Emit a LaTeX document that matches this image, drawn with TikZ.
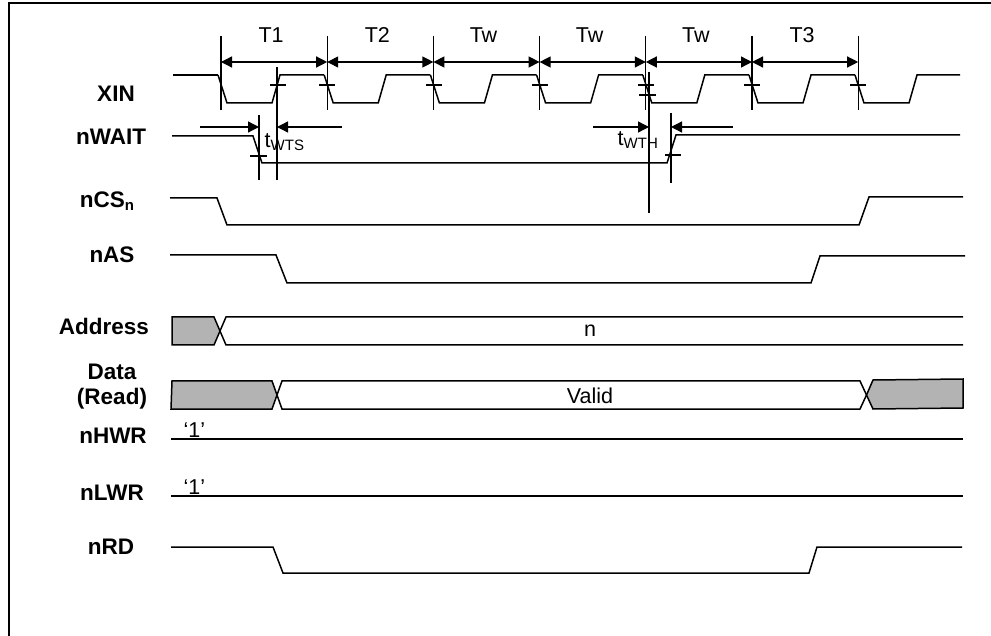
\documentclass[tikz,border=0pt]{standalone}
\usepackage{fontspec}
\setmainfont{Liberation Sans}
\usetikzlibrary{arrows.meta,positioning,calc}
\definecolor{busGray}{HTML}{B3B3B3}

\begin{document}
\begin{tikzpicture}[x=1pt,y=-1pt,line width=1.4pt,line join=miter,
    sig/.style={line width=1.5pt},
    guide/.style={line width=1.3pt},
    hit/.style={line width=1.3pt},
    signame/.style={font=\fontsize{22.5}{26}\selectfont\bfseries,anchor=base,inner sep=0pt},
    txt/.style={font=\fontsize{21.5}{25}\selectfont,anchor=base,inner sep=0pt},
    dim/.style={line width=1.3pt,{Triangle[length=11pt,width=11pt]}-{Triangle[length=11pt,width=11pt]}},
    onedim/.style={line width=1.3pt,-{Triangle[length=11pt,width=11pt]}},
    bus/.style={line width=1.5pt,line join=miter}]
  \useasboundingbox (0,0) rectangle (991,636);
  % frame
  \draw[line width=2pt] (991,3.5) -- (8.5,3.5) -- (8.5,636);

  % signal names
  \node[signame] (xin)   at (116,102) {XIN};
  \node[signame] (nwait) at (111,145) {nWAIT};
  \node[signame] (ncs)   at (107,208) {nCS\raisebox{-3pt}{\fontsize{15}{15}\selectfont n}};
  \node[signame] (nas)   at (112,263) {nAS};
  \node[signame] (addr)  at (104,335) {Address};
  \node[signame] (data)  at (112,380) {Data};
  \node[signame] (read)  at (112,404) {(Read)};
  \node[signame] (nhwr)  at (113,443) {nHWR};
  \node[signame] (nlwr)  at (112,500) {nLWR};
  \node[signame] (nrd)   at (111,554) {nRD};

  % clock period markers
  \foreach \k in {0,...,6}{
    \coordinate (c\k) at (221+106.2*\k,62);
    \draw[guide] (221+106.2*\k,36) -- (221+106.2*\k,110);
  }
  \foreach \a/\b/\lab in {0/1/T1,1/2/T2,2/3/Tw,3/4/Tw,4/5/Tw,5/6/T3}{
    \draw[dim] (c\a) -- (c\b);
    \node[txt] (per\a) at ($(c\a)!0.5!(c\b)+(-3,-19)$) {\lab};
  }

  % XIN
  \draw[sig] (173,75) -- (218,75);
  \foreach \k in {0,...,5}{
    \pgfmathsetmacro{\t}{221+106.2*\k}
    \draw[sig] (\t-3,75) -- (\t+6,103) -- (\t+51,103) -- (\t+59,75) -- (\t+103.2,75);
  }
  \draw[sig] (855,75) -- (864,103) -- (909,103) -- (917,75) -- (960,75);
  \draw[hit] (270,85) -- (286,85);
  \foreach \x in {327,434,540,646,752,858} \draw[hit] (\x-8,85) -- (\x+8,85);
  \draw[hit] (639,95) -- (656,95);

  % nWAIT
  \draw[sig] (172,136) -- (253,136) -- (262,163) -- (667,163) -- (676,135) -- (960,135);
  \draw[hit] (250,156) -- (267,156);
  \draw[hit] (665,155) -- (681,155);

  % setup / hold of nWAIT
  \draw[guide] (259,115) -- (259,180);
  \draw[guide] (277,67) -- (277,180);
  \draw[guide] (649,72) -- (649,213);
  \draw[guide] (671,113) -- (671,183);
  \coordinate (ws0) at (200,127);
  \coordinate (ws1) at (259,127);
  \coordinate (ws2) at (277,127);
  \coordinate (ws3) at (342,127);
  \coordinate (wh0) at (593,127);
  \coordinate (wh1) at (649,127);
  \coordinate (wh2) at (671,127);
  \coordinate (wh3) at (733,127);
  \draw[onedim] (ws0) -- (ws1);
  \draw[onedim] (ws3) -- (ws2);
  \draw[onedim] (wh0) -- (wh1);
  \draw[onedim] (wh3) -- (wh2);
  \node[txt,anchor=base west] (tws) at (264,148)
    {t\raisebox{-3pt}{\fontsize{15}{15}\selectfont WTS}};
  \node[txt,anchor=base west] (twh) at (617,146)
    {t\raisebox{-3pt}{\fontsize{15}{15}\selectfont WTH}};

  % nCSn, nAS
  \draw[sig] (170,198) -- (217,198) -- (227,225) -- (859,225) -- (869,197) -- (963,197);
  \draw[sig] (170,255) -- (276,255) -- (287,283) -- (811,283) -- (820,256) -- (965,256);

  % Address
  \filldraw[bus,fill=busGray] (172,317) -- (214,317) -- (220,331) -- (214,345) -- (172,345) -- cycle;
  \draw[bus] (963,317) -- (226,317) -- (220,331) -- (226,345) -- (963,345);
  \node[txt] (addrval) at (590,337) {n};

  % Data (Read)
  \filldraw[bus,fill=busGray] (172,381) -- (272,381) -- (277,395) -- (272,409) -- (171,409) -- cycle;
  \draw[bus] (860,381) -- (282,381) -- (277,395) -- (282,409) -- (860,409) -- (866.5,395) -- cycle;
  \filldraw[bus,fill=busGray] (873,380) -- (963,379) -- (963,408) -- (873,409) -- (866.5,395) -- cycle;
  \node[txt] (dataval) at (590,403) {Valid};

  % nHWR, nLWR
  \draw[sig] (171,439) -- (963,439);
  \node[txt,anchor=base west] (hwrone) at (183,437) {‘1’};
  \draw[sig] (171,496) -- (963,496);
  \node[txt,anchor=base west] (lwrone) at (183,494) {‘1’};

  % nRD
  \draw[sig] (171,547) -- (273,547) -- (283,573) -- (809,573) -- (817,547) -- (962,547);
\end{tikzpicture}
\end{document}
